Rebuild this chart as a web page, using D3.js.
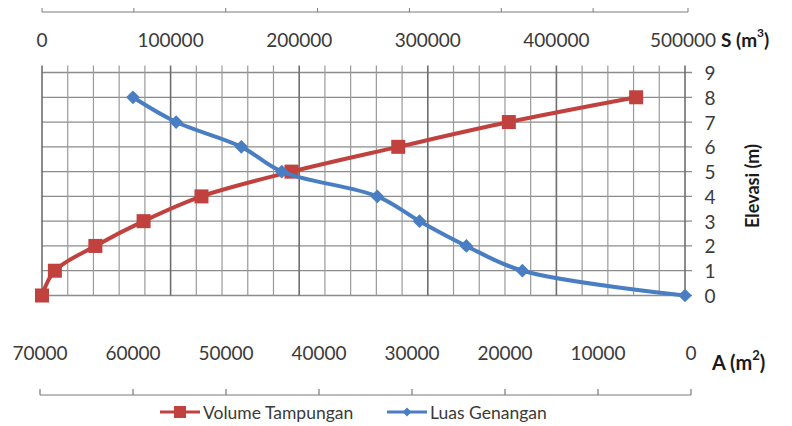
<!DOCTYPE html>
<html>
<head>
<meta charset="utf-8">
<script src="https://cdn.jsdelivr.net/npm/d3@7"></script>
<style>
  html, body { margin: 0; padding: 0; background: #fff; }
  svg { display: block; }
</style>
</head>
<body>
<svg id="chart" width="792" height="426"></svg>
<script>
// Elevation levels (m)
const elevasi = [0, 1, 2, 3, 4, 5, 6, 7, 8];
// Storage volume at each elevation (m3)
const volumeTampungan = [0, 10000, 41500, 79000, 124000, 194000, 277000, 363000, 462000];
// Inundated area at each elevation (m2)
const luasGenangan = [0, 17700, 23800, 28900, 33500, 43900, 48300, 55400, 60100];

const sTicks = [0, 100000, 200000, 300000, 400000, 500000];
const aTicks = [70000, 60000, 50000, 40000, 30000, 20000, 10000, 0];
const eTicks = [0, 1, 2, 3, 4, 5, 6, 7, 8, 9];

const svg = d3.select("#chart");
const font = "Lato, 'Open Sans', sans-serif";
const labelSize = 19;

const plotLeft = 42, plotRight = 685, plotTop = 72.5, plotBottom = 295.5;

const x = d3.scaleLinear().domain([0, 500000]).range([plotLeft, plotRight]);
const xa = d3.scaleLinear().domain([70000, 0]).range([plotLeft, plotRight]);
const xaBottom = xa.copy().range([40, 691]);
const y = d3.scaleLinear().domain([0, 9]).range([plotBottom, plotTop]);

// grid
const grid = svg.append("g");
grid.selectAll("line.h").data(eTicks).join("line")
  .attr("x1", plotLeft).attr("x2", plotRight + 7)
  .attr("y1", d => y(d)).attr("y2", d => y(d))
  .attr("stroke", "#8c8c8c").attr("stroke-width", 1.3);
const minorS = d3.range(0, 500001, 20000);
grid.selectAll("line.v").data(minorS).join("line")
  .attr("x1", d => x(d)).attr("x2", d => x(d))
  .attr("y1", plotTop - 7).attr("y2", plotBottom)
  .attr("stroke", d => d % 100000 === 0 ? "#6e6e6e" : "#9a9a9a")
  .attr("stroke-width", d => d % 100000 === 0 ? 1.6 : 1.2);

// top S axis labels
svg.append("g").selectAll("text").data(sTicks).join("text")
  .attr("x", d => x(d) - (d === 500000 ? 2 : 0)).attr("y", 39)
  .attr("text-anchor", "middle")
  .attr("dominant-baseline", "central")
  .attr("font-family", font).attr("font-size", labelSize).attr("fill", "#3a3a3a")
  .text(d => d);
const sTitle = svg.append("text").attr("x", 721).attr("y", 39)
  .attr("dominant-baseline", "central")
  .attr("font-family", font).attr("font-size", 19).attr("font-weight", "bold").attr("fill", "#1a1a1a");
sTitle.append("tspan").text("S (m");
sTitle.append("tspan").attr("dy", -7).attr("font-size", 12).text("3");
sTitle.append("tspan").attr("dy", 7).text(")");

// thin A axis line along the top edge
const topA = svg.append("g").attr("stroke", "#7a7a7a").attr("stroke-width", 1);
topA.append("line").attr("x1", xa(70000)).attr("x2", xa(0) + 3).attr("y1", 12).attr("y2", 12);
topA.selectAll("line.t").data(aTicks).join("line")
  .attr("x1", d => xa(d) + (d === 0 ? 3 : 0)).attr("x2", d => xa(d) + (d === 0 ? 3 : 0))
  .attr("y1", 12).attr("y2", 8);

// right elevation axis
svg.append("g").selectAll("text").data(eTicks).join("text")
  .attr("x", 710).attr("y", d => y(d))
  .attr("text-anchor", "middle").attr("dominant-baseline", "central")
  .attr("font-family", font).attr("font-size", labelSize).attr("fill", "#3a3a3a")
  .text(d => d);
svg.append("text")
  .attr("transform", "translate(752," + ((plotTop + plotBottom) / 2 + 2) + ") rotate(-90)")
  .attr("text-anchor", "middle").attr("dominant-baseline", "central")
  .attr("font-family", font).attr("font-size", 18).attr("font-weight", "bold").attr("fill", "#1a1a1a")
  .text("Elevasi (m)");

// bottom A axis
const botA = svg.append("g").attr("stroke", "#7a7a7a").attr("stroke-width", 1.2);
botA.append("line").attr("x1", xaBottom(70000)).attr("x2", xaBottom(0)).attr("y1", 395).attr("y2", 395);
botA.selectAll("line.t").data(aTicks).join("line")
  .attr("x1", d => xaBottom(d)).attr("x2", d => xaBottom(d))
  .attr("y1", 395).attr("y2", 389);
svg.append("g").selectAll("text").data(aTicks).join("text")
  .attr("x", d => xaBottom(d)).attr("y", 352)
  .attr("text-anchor", "middle").attr("dominant-baseline", "central")
  .attr("font-family", font).attr("font-size", labelSize).attr("fill", "#3a3a3a")
  .text(d => d);
const aTitle = svg.append("text").attr("x", 712).attr("y", 362)
  .attr("dominant-baseline", "central")
  .attr("font-family", font).attr("font-size", 20).attr("font-weight", "bold").attr("fill", "#1a1a1a");
aTitle.append("tspan").text("A (m");
aTitle.append("tspan").attr("dy", -7).attr("font-size", 13).text("2");
aTitle.append("tspan").attr("dy", 7).text(")");

// series
const red = "#c0413d", blue = "#4a7ec2";
const volPts = elevasi.map((e, i) => [x(volumeTampungan[i]), y(e)]);
const luasPts = elevasi.map((e, i) => [xa(luasGenangan[i]), y(e)]);
const line = d3.line().curve(d3.curveCatmullRom.alpha(0.5));

svg.append("path").attr("d", line(volPts)).attr("fill", "none")
  .attr("stroke", red).attr("stroke-width", 4);
svg.append("g").selectAll("rect").data(volPts).join("rect")
  .attr("x", d => d[0] - 7).attr("y", d => d[1] - 7)
  .attr("width", 14).attr("height", 14).attr("fill", red);

svg.append("path").attr("d", line(luasPts)).attr("fill", "none")
  .attr("stroke", blue).attr("stroke-width", 4);
const diamond = d3.symbol().type(d3.symbolDiamond2).size(120);
svg.append("g").selectAll("path").data(luasPts).join("path")
  .attr("transform", d => "translate(" + d[0] + "," + d[1] + ")")
  .attr("d", diamond).attr("fill", blue);

// legend
const lg = svg.append("g");
const legendItems = [
  { name: "Volume Tampungan", color: red, x: 160, shape: "square" },
  { name: "Luas Genangan", color: blue, x: 387, shape: "diamond" }
];
legendItems.forEach(it => {
  const g = lg.append("g").attr("transform", "translate(" + it.x + ",412)");
  g.append("line").attr("x1", 0).attr("x2", 40).attr("stroke", it.color).attr("stroke-width", 3);
  if (it.shape === "square") {
    g.append("rect").attr("x", 14).attr("y", -6).attr("width", 12).attr("height", 12).attr("fill", it.color);
  } else {
    g.append("path").attr("transform", "translate(20,0)")
      .attr("d", d3.symbol().type(d3.symbolDiamond2).size(50)).attr("fill", it.color);
  }
  g.append("text").attr("x", 43).attr("y", 0).attr("dominant-baseline", "central")
    .attr("font-family", font).attr("font-size", 17.5).attr("fill", "#3a3a3a").text(it.name);
});
</script>
</body>
</html>
